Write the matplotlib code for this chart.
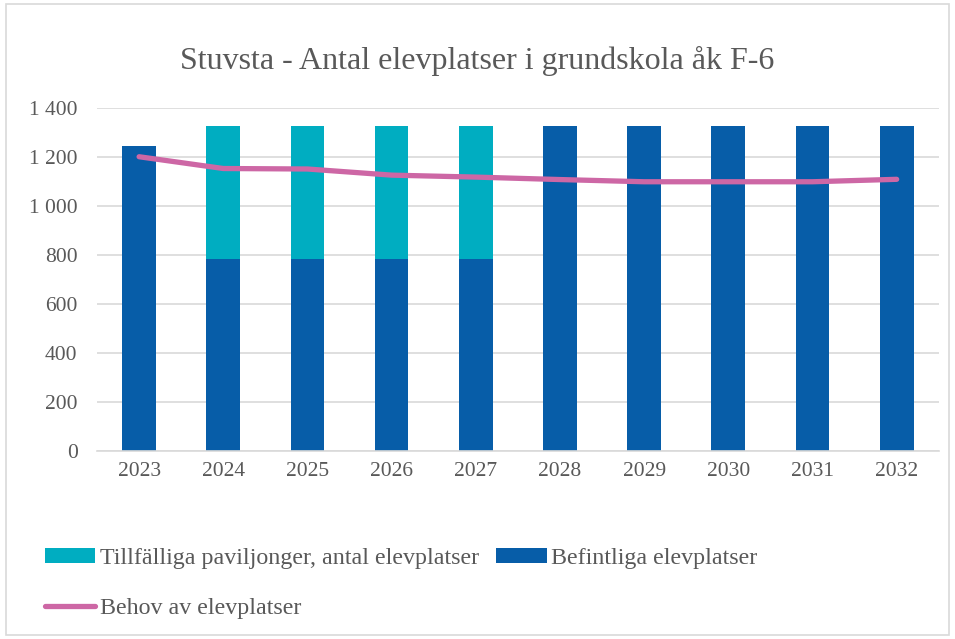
import matplotlib.pyplot as plt
from matplotlib.ticker import FuncFormatter
from matplotlib.patches import Rectangle
import numpy as np

plt.rcParams['font.family'] = ['Liberation Serif', 'DejaVu Serif']

# data
years = ['2023', '2024', '2025', '2026', '2027', '2028', '2029', '2030', '2031', '2032']
befintliga = [1245, 785, 785, 785, 785, 1325, 1325, 1325, 1325, 1325]
paviljonger = [0, 540, 540, 540, 540, 0, 0, 0, 0, 0]
behov = [1200, 1152, 1150, 1125, 1117, 1107, 1098, 1098, 1098, 1108]

cyan = '#00adc1'
blue = '#075da8'
pink = '#cd67a5'
grey_txt = '#595959'

fig = plt.figure(figsize=(9.55, 6.39), dpi=100)
ax = fig.add_axes([0.1016, 0.294, 0.8814, 0.5375])

x = np.arange(len(years))
b1 = ax.bar(x, befintliga, width=0.4, color=blue, zorder=2)
b2 = ax.bar(x, paviljonger, width=0.4, bottom=befintliga, color=cyan, zorder=2)
ln, = ax.plot(x, behov, color=pink, linewidth=3.8, solid_capstyle='round', zorder=3)

ax.set_xlim(-0.5, len(years) - 0.5)
ax.set_ylim(0, 1400)
ax.set_yticks(range(0, 1401, 200))
ax.yaxis.set_major_formatter(FuncFormatter(lambda v, p: '{:,}'.format(int(v)).replace(',', ' ')))
ax.set_xticks(x)
ax.set_xticklabels(years)
ax.grid(axis='y', color='#d9d9d9', linewidth=1.2, zorder=0)
for s in ['top', 'right', 'left']:
    ax.spines[s].set_visible(False)
ax.spines['bottom'].set_color('#d9d9d9')
ax.spines['bottom'].set_linewidth(1.2)
ax.tick_params(axis='both', length=0, labelsize=15.5, colors=grey_txt, pad=8)
ax.tick_params(axis='y', pad=14)

fig.text(0.5, 0.905, 'Stuvsta - Antal elevplatser i grundskola åk F-6',
         ha='center', va='center', fontsize=23, color=grey_txt)

leg = fig.legend([b2, ln, b1],
                 ['Tillfälliga paviljonger, antal elevplatser', 'Behov av elevplatser', 'Befintliga elevplatser'],
                 ncol=2, loc='upper left', bbox_to_anchor=(0.037, 0.158), frameon=False,
                 fontsize=17.3, handlelength=2.1, handleheight=0.6, handletextpad=0.2,
                 columnspacing=0.7, labelspacing=1.2, borderaxespad=0)
for t in leg.get_texts():
    t.set_color(grey_txt)

fig.patches.append(Rectangle((0.006, 0.006), 0.988, 0.988, transform=fig.transFigure,
                             fill=False, edgecolor='#d9d9d9', linewidth=1.2))

fig.savefig('out.png', dpi=100)
